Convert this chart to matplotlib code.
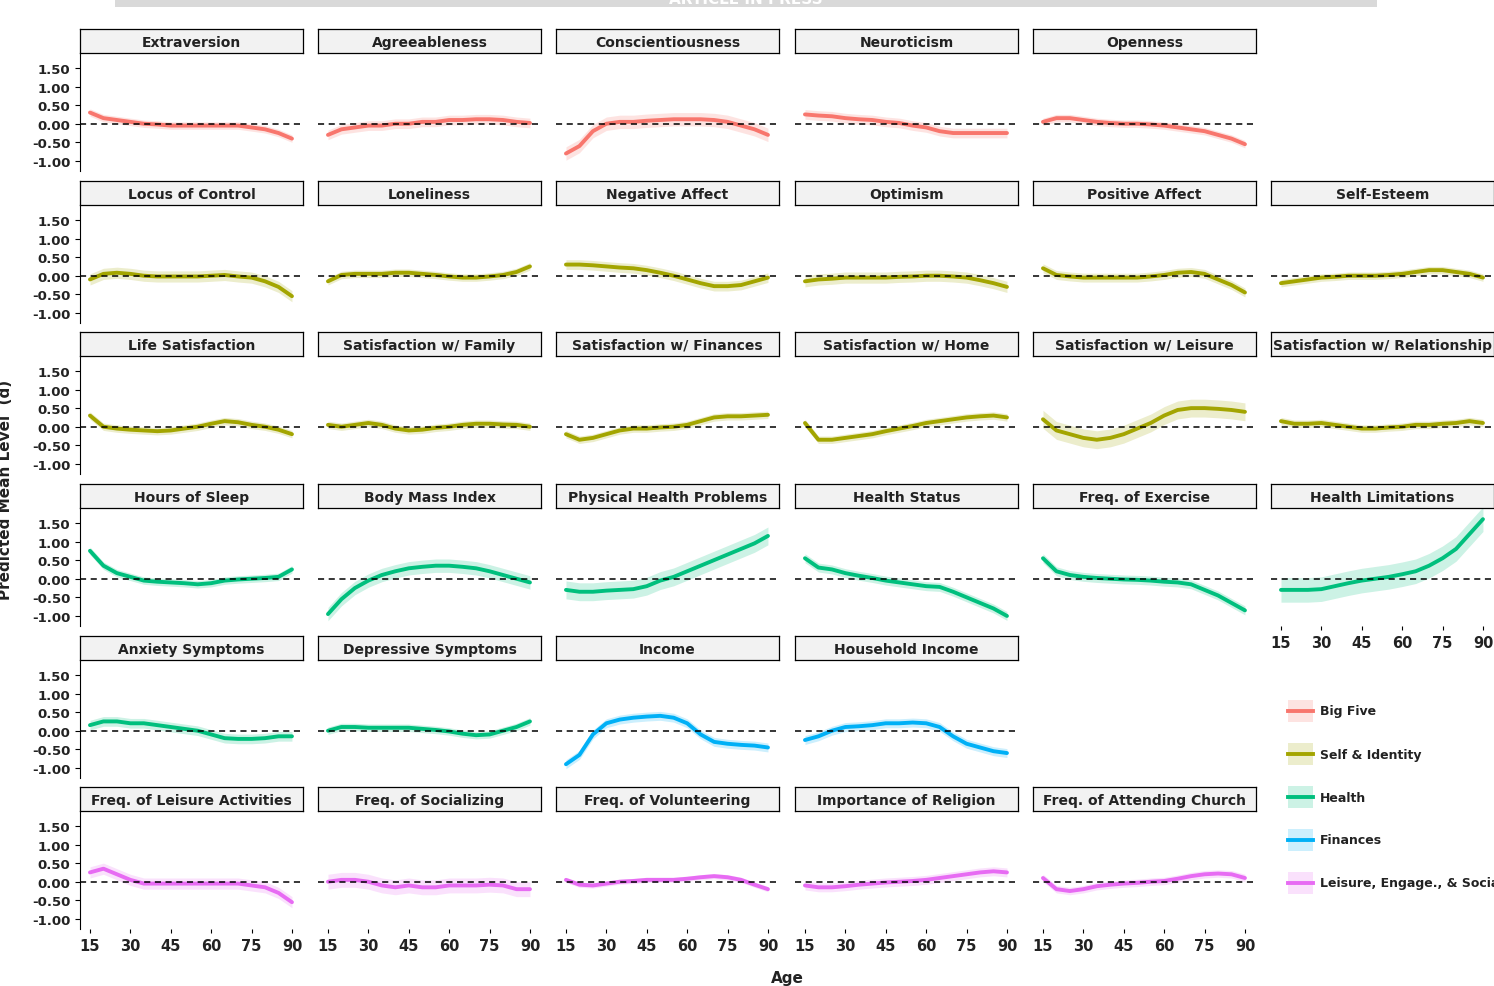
import numpy as np
import matplotlib
matplotlib.use("Agg")
import matplotlib.pyplot as plt
from matplotlib.patches import Rectangle

# ── data ───────────────────────────────────────────────────────────────────
ages = [15, 20, 25, 30, 35, 40, 45, 50, 55, 60, 65, 70, 75, 80, 85, 90]

# (row, col, title, group, band half-width, values)
panels = [
    (0, 0, 'Extraversion', 0, 0.1, [0.3, 0.15, 0.1, 0.05, 0, -0.02, -0.05, -0.05, -0.05, -0.05, -0.05, -0.05, -0.1, -0.15, -0.25, -0.4]),
    (0, 1, 'Agreeableness', 0, 0.13, [-0.3, -0.15, -0.1, -0.05, -0.05, 0, 0, 0.05, 0.05, 0.1, 0.1, 0.12, 0.12, 0.1, 0.05, 0.02]),
    (0, 2, 'Conscientiousness', 0, 0.18, [-0.8, -0.6, -0.2, 0, 0.05, 0.05, 0.08, 0.1, 0.12, 0.12, 0.12, 0.1, 0.05, -0.05, -0.15, -0.3]),
    (0, 3, 'Neuroticism', 0, 0.13, [0.25, 0.22, 0.2, 0.15, 0.12, 0.1, 0.05, 0.02, -0.05, -0.1, -0.2, -0.25, -0.25, -0.25, -0.25, -0.25]),
    (0, 4, 'Openness', 0, 0.1, [0.05, 0.15, 0.15, 0.1, 0.05, 0.02, 0, 0, -0.02, -0.05, -0.1, -0.15, -0.2, -0.3, -0.4, -0.55]),
    (1, 0, 'Locus of Control', 1, 0.15, [-0.1, 0.05, 0.08, 0.05, 0, -0.02, -0.02, -0.02, -0.02, 0, 0.02, -0.02, -0.05, -0.15, -0.3, -0.55]),
    (1, 1, 'Loneliness', 1, 0.1, [-0.15, 0.02, 0.05, 0.05, 0.05, 0.08, 0.08, 0.05, 0.02, -0.02, -0.05, -0.05, -0.02, 0.02, 0.1, 0.25]),
    (1, 2, 'Negative Affect', 1, 0.13, [0.3, 0.3, 0.28, 0.25, 0.22, 0.2, 0.15, 0.08, 0, -0.1, -0.2, -0.28, -0.28, -0.25, -0.15, -0.05]),
    (1, 3, 'Optimism', 1, 0.15, [-0.15, -0.1, -0.08, -0.05, -0.05, -0.05, -0.05, -0.03, -0.02, 0, 0, -0.02, -0.05, -0.12, -0.2, -0.3]),
    (1, 4, 'Positive Affect', 1, 0.12, [0.2, 0.02, -0.02, -0.05, -0.05, -0.05, -0.05, -0.05, -0.02, 0.02, 0.08, 0.1, 0.05, -0.1, -0.25, -0.45]),
    (1, 5, 'Self-Esteem', 1, 0.1, [-0.2, -0.15, -0.1, -0.05, -0.03, 0, 0, 0, 0.02, 0.05, 0.1, 0.15, 0.15, 0.1, 0.05, -0.05]),
    (2, 0, 'Life Satisfaction', 1, 0.1, [0.3, 0, -0.05, -0.08, -0.1, -0.12, -0.1, -0.05, 0, 0.08, 0.15, 0.12, 0.05, 0, -0.08, -0.2]),
    (2, 1, 'Satisfaction w/ Family', 1, 0.1, [0.05, 0, 0.05, 0.1, 0.05, -0.05, -0.1, -0.08, -0.03, 0, 0.05, 0.08, 0.08, 0.06, 0.05, 0]),
    (2, 2, 'Satisfaction w/ Finances', 1, 0.1, [-0.2, -0.35, -0.3, -0.2, -0.1, -0.05, -0.05, -0.02, 0, 0.05, 0.15, 0.25, 0.28, 0.28, 0.3, 0.32]),
    (2, 3, 'Satisfaction w/ Home', 1, 0.1, [0.1, -0.35, -0.35, -0.3, -0.25, -0.2, -0.12, -0.05, 0.02, 0.1, 0.15, 0.2, 0.25, 0.28, 0.3, 0.25]),
    (2, 4, 'Satisfaction w/ Leisure', 1, 0.24, [0.2, -0.1, -0.2, -0.3, -0.35, -0.3, -0.2, -0.05, 0.1, 0.3, 0.45, 0.5, 0.5, 0.48, 0.45, 0.4]),
    (2, 5, 'Satisfaction w/ Relationship', 1, 0.1, [0.15, 0.08, 0.08, 0.1, 0.05, 0, -0.05, -0.05, -0.02, 0, 0.05, 0.05, 0.08, 0.1, 0.15, 0.1]),
    (3, 0, 'Hours of Sleep', 2, 0.1, [0.75, 0.35, 0.15, 0.05, -0.05, -0.08, -0.1, -0.12, -0.15, -0.12, -0.05, -0.02, 0, 0.02, 0.05, 0.25]),
    (3, 1, 'Body Mass Index', 2, 0.18, [-0.95, -0.55, -0.25, -0.05, 0.1, 0.2, 0.28, 0.32, 0.35, 0.35, 0.32, 0.28, 0.2, 0.1, 0, -0.1]),
    (3, 2, 'Physical Health Problems', 2, 0.24, [-0.3, -0.35, -0.35, -0.32, -0.3, -0.28, -0.2, -0.05, 0.05, 0.2, 0.35, 0.5, 0.65, 0.8, 0.95, 1.15]),
    (3, 3, 'Health Status', 2, 0.12, [0.55, 0.3, 0.25, 0.15, 0.08, 0.02, -0.05, -0.1, -0.15, -0.2, -0.22, -0.35, -0.5, -0.65, -0.8, -1.0]),
    (3, 4, 'Freq. of Exercise', 2, 0.12, [0.55, 0.2, 0.1, 0.05, 0.02, 0, -0.02, -0.03, -0.05, -0.08, -0.1, -0.15, -0.3, -0.45, -0.65, -0.85]),
    (3, 5, 'Health Limitations', 2, 0.33, [-0.3, -0.3, -0.3, -0.28, -0.2, -0.12, -0.05, 0, 0.05, 0.12, 0.2, 0.35, 0.55, 0.8, 1.2, 1.6]),
    (4, 0, 'Anxiety Symptoms', 2, 0.13, [0.15, 0.25, 0.25, 0.2, 0.2, 0.15, 0.1, 0.05, 0, -0.1, -0.2, -0.22, -0.22, -0.2, -0.15, -0.15]),
    (4, 1, 'Depressive Symptoms', 2, 0.1, [0, 0.1, 0.1, 0.08, 0.08, 0.08, 0.08, 0.05, 0.02, -0.02, -0.08, -0.12, -0.1, 0, 0.1, 0.25]),
    (4, 2, 'Income', 3, 0.12, [-0.9, -0.65, -0.1, 0.2, 0.3, 0.35, 0.38, 0.4, 0.35, 0.2, -0.1, -0.3, -0.35, -0.38, -0.4, -0.45]),
    (4, 3, 'Household Income', 3, 0.12, [-0.25, -0.15, 0, 0.1, 0.12, 0.15, 0.2, 0.2, 0.22, 0.2, 0.1, -0.15, -0.35, -0.45, -0.55, -0.6]),
    (5, 0, 'Freq. of Leisure Activities', 4, 0.15, [0.25, 0.35, 0.2, 0.05, -0.05, -0.05, -0.05, -0.05, -0.05, -0.05, -0.05, -0.05, -0.1, -0.15, -0.3, -0.55]),
    (5, 1, 'Freq. of Socializing', 4, 0.2, [0, 0.05, 0.05, 0, -0.1, -0.15, -0.1, -0.15, -0.15, -0.1, -0.1, -0.1, -0.08, -0.1, -0.2, -0.2]),
    (5, 2, 'Freq. of Volunteering', 4, 0.07, [0.05, -0.08, -0.1, -0.05, 0, 0.02, 0.05, 0.05, 0.05, 0.08, 0.12, 0.15, 0.12, 0.05, -0.08, -0.2]),
    (5, 3, 'Importance of Religion', 4, 0.12, [-0.1, -0.15, -0.15, -0.12, -0.08, -0.05, -0.02, 0, 0.02, 0.05, 0.1, 0.15, 0.2, 0.25, 0.28, 0.25]),
    (5, 4, 'Freq. of Attending Church', 4, 0.1, [0.1, -0.2, -0.25, -0.2, -0.12, -0.08, -0.05, -0.03, 0, 0.02, 0.08, 0.15, 0.2, 0.22, 0.2, 0.1]),
]

groups = ['Big Five', 'Self & Identity', 'Health', 'Finances', 'Leisure, Engage., & Social']
group_colors = ['#F8766D', '#A3A500', '#00BF7D', '#00B0F6', '#E76BF3']

yticks = [-1.0, -0.5, 0.0, 0.5, 1.0, 1.5]
xticks = [15, 30, 45, 60, 75, 90]

# ── layout (pixels) ────────────────────────────────────────────────────────
W, H = 1494, 987
fig = plt.figure(figsize=(W / 100, H / 100), dpi=100)
col_x = [80, 318, 556, 795, 1033, 1271]
row_y = [30, 182, 333, 485, 637, 788]
pw, strip_h, ph = 223, 24, 118
bold = dict(fontweight='bold', color='#222222')
x_axis_panels = {(5, 0), (5, 1), (5, 2), (5, 3), (5, 4), (3, 5)}

for r, c, title, g, band, vals in panels:
    x0, y0 = col_x[c], row_y[r]
    ax = fig.add_axes([x0 / W, 1 - (y0 + strip_h + ph) / H, pw / W, ph / H])
    sax = fig.add_axes([x0 / W, 1 - (y0 + strip_h) / H, pw / W, strip_h / H])
    sax.set_xticks([]); sax.set_yticks([])
    sax.set_facecolor('#F2F2F2')
    for s in sax.spines.values():
        s.set_linewidth(0.9)
    sax.text(0.5, 0.47, title, ha='center', va='center', fontsize=10, **bold)

    v = np.array(vals)
    col = group_colors[g]
    ax.fill_between(ages, v - band, v + band, color=col, alpha=0.2, lw=0)
    ax.plot(ages, v, color=col, lw=2.8, solid_capstyle='round')
    ax.axhline(0, color='black', lw=1.1, ls=(0, (4, 3)))
    ax.set_xlim(11.3, 94.1)
    ax.set_ylim(-1.27, 1.9)
    for s in ax.spines.values():
        s.set_visible(False)
    ax.set_yticks(yticks)
    ax.set_xticks(xticks)
    if c == 0:
        ax.spines['left'].set_visible(True)
        ax.set_yticklabels([f'{t:.2f}' for t in yticks], fontsize=9.5,
                           fontweight='bold', color='#222222')
    else:
        ax.tick_params(axis='y', left=False, labelleft=False)
    if (r, c) in x_axis_panels:
        ax.set_xticklabels([str(t) for t in xticks], fontsize=10.5,
                           fontweight='bold', color='#222222')
        ax.tick_params(axis='x', length=3)
    else:
        ax.tick_params(axis='x', bottom=False, labelbottom=False)

# ── legend ─────────────────────────────────────────────────────────────────
lax = fig.add_axes([0, 0, 1, 1], facecolor='none')
lax.set_xlim(0, W); lax.set_ylim(H, 0); lax.axis('off')
for i, (name, col) in enumerate(zip(groups, group_colors)):
    yy = 712 + i * 43
    lax.add_patch(Rectangle((1288, yy - 11), 25, 22, color=col, alpha=0.2, lw=0))
    lax.plot([1288, 1313], [yy, yy], color=col, lw=2.8)
    lax.text(1320, yy, name, va='center', fontsize=9, **bold)

# ── banner and axis titles ─────────────────────────────────────────────────
lax.add_patch(Rectangle((115, -5), 1262, 13, color='#D9D9D9', lw=0))
lax.text(746, 7, 'ARTICLE IN PRESS', ha='center', va='bottom', fontsize=11,
         color='white', fontweight='bold', clip_on=True)
lax.text(787, 979, 'Age', ha='center', va='center', fontsize=11, **bold)
lax.text(6, 490, 'Predicted Mean Level  (d)', rotation=90, ha='center',
         va='center', fontsize=11, **bold)

fig.savefig('out.png', dpi=100)
